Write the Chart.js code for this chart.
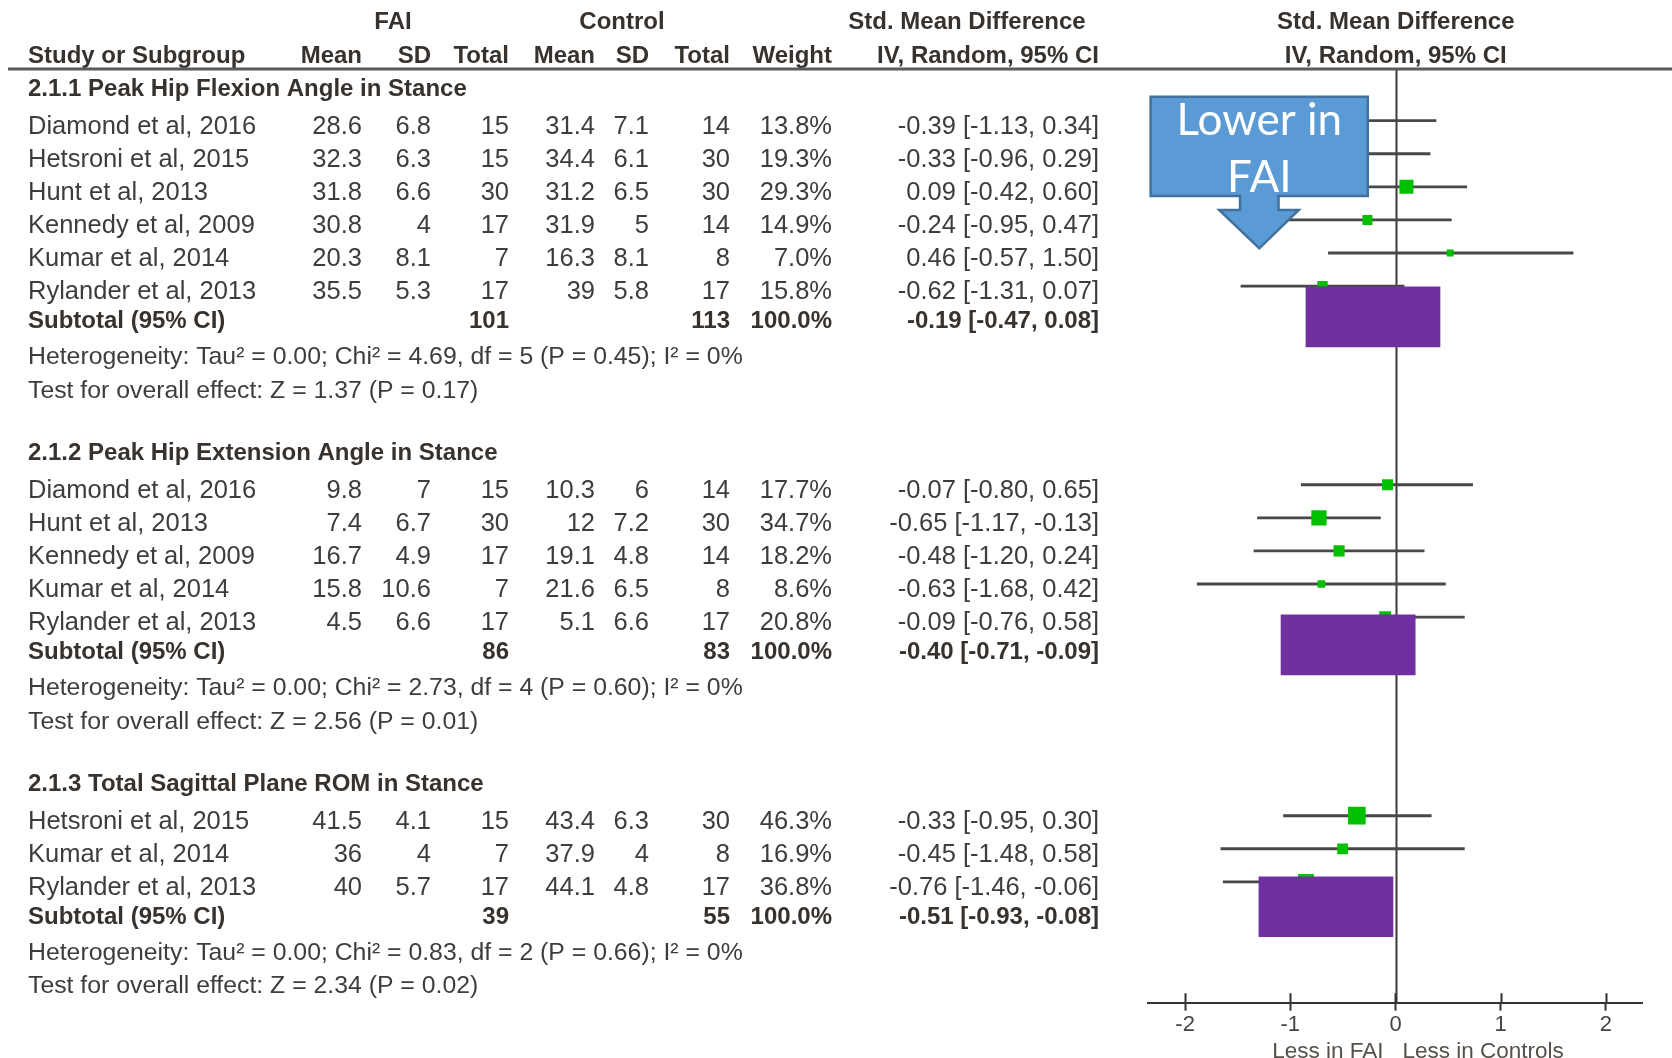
<!DOCTYPE html>
<html>
<head>
<meta charset="utf-8">
<title>Forest plot – hip kinematics in FAI vs controls</title>
<script src="https://cdn.jsdelivr.net/npm/chart.js@4.4.1/dist/chart.umd.min.js"></script>
<style>
  html, body { margin: 0; padding: 0; background: #ffffff; }
  canvas { display: block; }
</style>
</head>
<body>
<canvas id="forest" width="1672" height="1058"></canvas>
<script>
// ---------------- data ----------------
const sectionTitles = [
  '2.1.1 Peak Hip Flexion Angle in Stance',
  '2.1.2 Peak Hip Extension Angle in Stance',
  '2.1.3 Total Sagittal Plane ROM in Stance'
];
const studyNames = [
  ['Diamond et al, 2016', 'Hetsroni et al, 2015', 'Hunt et al, 2013', 'Kennedy et al, 2009', 'Kumar et al, 2014', 'Rylander et al, 2013'],
  ['Diamond et al, 2016', 'Hunt et al, 2013', 'Kennedy et al, 2009', 'Kumar et al, 2014', 'Rylander et al, 2013'],
  ['Hetsroni et al, 2015', 'Kumar et al, 2014', 'Rylander et al, 2013']
];
const faiMean  = [[28.6, 32.3, 31.8, 30.8, 20.3, 35.5], [9.8, 7.4, 16.7, 15.8, 4.5], [41.5, 36, 40]];
const faiSD    = [[6.8, 6.3, 6.6, 4, 8.1, 5.3], [7, 6.7, 4.9, 10.6, 6.6], [4.1, 4, 5.7]];
const faiN     = [[15, 15, 30, 17, 7, 17], [15, 30, 17, 7, 17], [15, 7, 17]];
const ctlMean  = [[31.4, 34.4, 31.2, 31.9, 16.3, 39], [10.3, 12, 19.1, 21.6, 5.1], [43.4, 37.9, 44.1]];
const ctlSD    = [[7.1, 6.1, 6.5, 5, 8.1, 5.8], [6, 7.2, 4.8, 6.5, 6.6], [6.3, 4, 4.8]];
const ctlN     = [[14, 30, 30, 14, 8, 17], [14, 30, 14, 8, 17], [30, 8, 17]];
const weightPct = [[13.8, 19.3, 29.3, 14.9, 7.0, 15.8], [17.7, 34.7, 18.2, 8.6, 20.8], [46.3, 16.9, 36.8]];
const smd      = [[-0.39, -0.33, 0.09, -0.24, 0.46, -0.62], [-0.07, -0.65, -0.48, -0.63, -0.09], [-0.33, -0.45, -0.76]];
const ciLow    = [[-1.13, -0.96, -0.42, -0.95, -0.57, -1.31], [-0.80, -1.17, -1.20, -1.68, -0.76], [-0.95, -1.48, -1.46]];
const ciHigh   = [[0.34, 0.29, 0.60, 0.47, 1.50, 0.07], [0.65, -0.13, 0.24, 0.42, 0.58], [0.30, 0.58, -0.06]];

const subFaiN  = [101, 86, 39];
const subCtlN  = [113, 83, 55];
const subSmd   = [-0.19, -0.40, -0.51];
const subLow   = [-0.47, -0.71, -0.93];
const subHigh  = [0.08, -0.09, -0.08];

const hetTau2  = [0.00, 0.00, 0.00];
const hetChi2  = [4.69, 2.73, 0.83];
const hetDf    = [5, 4, 2];
const hetP     = [0.45, 0.60, 0.66];
const hetI2    = [0, 0, 0];
const effectZ  = [1.37, 2.56, 2.34];
const effectP  = [0.17, 0.01, 0.02];

const tickValues = [-2, -1, 0, 1, 2];

// ---------------- layout ----------------
// vertical positions are expressed in table rows (one row per study line)
const sectionFirstRow = [2, 13, 23];
const HEADER_ROWS = [-1.16, -0.14];
const TITLE_OFFSET = -1.13;     // subgroup title above first study
const SUBTOTAL_OFFSET = 0.87;   // after last study
const HET_OFFSET = 1.97;
const TEST_OFFSET = 2.97;
const TEXT_DROP = 6.3;          // text centre sits slightly below the CI line

// pasted-in annotation shapes, in data units (SMD on x, rows on y)
const highlightLow  = [-0.760, -0.971, -1.158];
const highlightHigh = [0.374, 0.164, -0.024];
const highlightRow  = [7.93, 17.84, 25.75];
const CALLOUT = {
  left: -2.074, right: -0.237, top: 1.275, bottom: 4.277,
  shaftLeft: -1.318, shaftRight: -0.992, headLeft: -1.494, headRight: -0.821,
  headRow: 4.70, tipX: -1.155, tipRow: 5.857,
  lines: ['Lower in', 'FAI']
};

// plotting window
const X_MIN = -2.0964, X_MAX = 2.0829;          // effect-size scale
const AXIS_MIN = -2.3527, AXIS_MAX = 2.3432;    // printed axis
const Y_MIN = 0.47, Y_MAX = 28.65;

const COL = {
  study: 28, faiMean: 362, faiSD: 431, faiN: 509,
  ctlMean: 595, ctlSD: 649, ctlN: 730, weight: 832, ci: 1099,
  faiHead: 393, ctlHead: 622, smdHead: 967, ivHead: 988
};

const FONT = '"Liberation Sans", Arial, Helvetica, sans-serif';
const TEXT_REG = '25.5px ' + FONT;
const TEXT_NOTE = '24.8px ' + FONT;
const TEXT_BOLD = 'bold 24px ' + FONT;
const INK = '#3d3d3d';
const INK_BOLD = '#38322e';
const LINE_INK = '#474747';
const SQUARE_GREEN = '#00c000';
const BOX_PURPLE = '#7030a0';

// ---------------- helpers ----------------
const fmt2 = v => v.toFixed(2);
const ciText = (e, lo, hi) => `${fmt2(e)} [${fmt2(lo)}, ${fmt2(hi)}]`;

// ---------------- datasets ----------------
const ciData = [], squareData = [], squareRadius = [];
sectionFirstRow.forEach((first, s) => {
  smd[s].forEach((e, i) => {
    const row = first + i;
    ciData.push({ x: [ciLow[s][i], ciHigh[s][i]], y: row });
    squareData.push({ x: e, y: row });
    const side = 2.6 * Math.sqrt(weightPct[s][i]);
    squareRadius.push(side / (2 * Math.SQRT1_2));
  });
});

const diamondSets = sectionFirstRow.map((first, s) => {
  const row = first + smd[s].length - 1 + SUBTOTAL_OFFSET - 0.03;
  return {
    type: 'line',
    xAxisID: 'x', yAxisID: 'y',
    data: [
      { x: subLow[s], y: row }, { x: subSmd[s], y: row - 0.2 },
      { x: subHigh[s], y: row }, { x: subSmd[s], y: row + 0.2 },
      { x: subLow[s], y: row }
    ],
    borderColor: '#000', borderWidth: 1, backgroundColor: '#000',
    fill: 'shape', pointRadius: 0, tension: 0, order: 2
  };
});

const datasets = [
  {
    type: 'bar', indexAxis: 'y', xAxisID: 'x', yAxisID: 'y',
    data: ciData, barThickness: 2.2, grouped: false,
    backgroundColor: LINE_INK, borderWidth: 0, order: 3
  },
  {
    type: 'scatter', xAxisID: 'x', yAxisID: 'y',
    data: squareData, pointStyle: 'rect', pointRadius: squareRadius,
    backgroundColor: SQUARE_GREEN, borderColor: SQUARE_GREEN, borderWidth: 0, order: 1
  },
  ...diamondSets,
  {
    type: 'bar', indexAxis: 'y', xAxisID: 'x', yAxisID: 'y',
    data: highlightRow.map((r, k) => ({ x: [highlightLow[k], highlightHigh[k]], y: r })),
    barThickness: 60, grouped: false,
    backgroundColor: BOX_PURPLE, borderWidth: 0, order: 0
  }
];

// ---------------- drawing of table & decorations ----------------
function put(ctx, s, x, y, align, font, color) {
  ctx.font = font;
  ctx.fillStyle = color;
  ctx.textAlign = align;
  ctx.textBaseline = 'middle';
  ctx.fillText(s, x, y);
}

const forestDecor = {
  id: 'forestDecor',
  beforeDatasetsDraw(chart) {
    const { ctx, chartArea, scales: { x } } = chart;
    const x0 = Math.round(x.getPixelForValue(0)) + 0.5;
    ctx.save();
    ctx.strokeStyle = '#3a3a3a';
    ctx.lineWidth = 2;
    ctx.beginPath();
    ctx.moveTo(x0, chartArea.top);
    ctx.lineTo(x0, chartArea.bottom);
    ctx.stroke();
    ctx.restore();
  },
  afterDatasetsDraw(chart) {
    const { ctx, scales: { x, y } } = chart;
    const X = v => x.getPixelForValue(v), Y = v => y.getPixelForValue(v);
    const c = CALLOUT;
    const l = X(c.left), r = X(c.right), t = Y(c.top), b = Y(c.bottom);
    const sl = X(c.shaftLeft), sr = X(c.shaftRight);
    const hl = X(c.headLeft), hr = X(c.headRight), hy = Y(c.headRow);
    const tx = X(c.tipX), ty = Y(c.tipRow);
    ctx.save();
    ctx.beginPath();
    ctx.moveTo(l, t); ctx.lineTo(r, t); ctx.lineTo(r, b);
    ctx.lineTo(sr, b); ctx.lineTo(sr, hy); ctx.lineTo(hr, hy);
    ctx.lineTo(tx, ty);
    ctx.lineTo(hl, hy); ctx.lineTo(sl, hy); ctx.lineTo(sl, b);
    ctx.lineTo(l, b); ctx.closePath();
    ctx.fillStyle = '#5b9bd5';
    ctx.fill();
    ctx.lineJoin = 'miter';
    ctx.strokeStyle = '#41719c';
    ctx.lineWidth = 2.5;
    ctx.stroke();
    const cx = (sl + sr) / 2;
    const h = b - t;
    put(ctx, c.lines[0], cx, t + 0.24 * h, 'center', '44px Lato, "Open Sans", sans-serif', '#ffffff');
    put(ctx, c.lines[1], cx, t + 0.82 * h, 'center', '44px Lato, "Open Sans", sans-serif', '#ffffff');
    ctx.restore();
  },
  afterDraw(chart) {
    const { ctx, chartArea, scales: { y, xAxis } } = chart;
    const rowY = r => y.getPixelForValue(r) + TEXT_DROP;
    ctx.save();

    // column headings
    const h1 = rowY(HEADER_ROWS[0]), h2 = rowY(HEADER_ROWS[1]);
    put(ctx, 'FAI', COL.faiHead, h1, 'center', TEXT_BOLD, INK_BOLD);
    put(ctx, 'Control', COL.ctlHead, h1, 'center', TEXT_BOLD, INK_BOLD);
    put(ctx, 'Std. Mean Difference', COL.smdHead, h1, 'center', TEXT_BOLD, INK_BOLD);
    put(ctx, 'Study or Subgroup', COL.study, h2, 'left', TEXT_BOLD, INK_BOLD);
    put(ctx, 'Mean', COL.faiMean, h2, 'right', TEXT_BOLD, INK_BOLD);
    put(ctx, 'SD', COL.faiSD, h2, 'right', TEXT_BOLD, INK_BOLD);
    put(ctx, 'Total', COL.faiN, h2, 'right', TEXT_BOLD, INK_BOLD);
    put(ctx, 'Mean', COL.ctlMean, h2, 'right', TEXT_BOLD, INK_BOLD);
    put(ctx, 'SD', COL.ctlSD, h2, 'right', TEXT_BOLD, INK_BOLD);
    put(ctx, 'Total', COL.ctlN, h2, 'right', TEXT_BOLD, INK_BOLD);
    put(ctx, 'Weight', COL.weight, h2, 'right', TEXT_BOLD, INK_BOLD);
    put(ctx, 'IV, Random, 95% CI', COL.ivHead, h2, 'center', TEXT_BOLD, INK_BOLD);
    const xPlot0 = chart.scales.x.getPixelForValue(0);
    put(ctx, 'Std. Mean Difference', xPlot0, h1, 'center', TEXT_BOLD, INK_BOLD);
    put(ctx, 'IV, Random, 95% CI', xPlot0, h2, 'center', TEXT_BOLD, INK_BOLD);

    // heading rule
    ctx.strokeStyle = '#5a5a5a';
    ctx.lineWidth = 3;
    ctx.beginPath();
    ctx.moveTo(8, chartArea.top - 1);
    ctx.lineTo(chart.width, chartArea.top - 1);
    ctx.stroke();

    // subgroups
    sectionFirstRow.forEach((first, s) => {
      const last = first + studyNames[s].length - 1;
      put(ctx, sectionTitles[s], COL.study, rowY(first + TITLE_OFFSET), 'left', TEXT_BOLD, INK_BOLD);
      studyNames[s].forEach((name, i) => {
        const yy = rowY(first + i);
        put(ctx, name, COL.study, yy, 'left', TEXT_REG, INK);
        put(ctx, String(faiMean[s][i]), COL.faiMean, yy, 'right', TEXT_REG, INK);
        put(ctx, String(faiSD[s][i]), COL.faiSD, yy, 'right', TEXT_REG, INK);
        put(ctx, String(faiN[s][i]), COL.faiN, yy, 'right', TEXT_REG, INK);
        put(ctx, String(ctlMean[s][i]), COL.ctlMean, yy, 'right', TEXT_REG, INK);
        put(ctx, String(ctlSD[s][i]), COL.ctlSD, yy, 'right', TEXT_REG, INK);
        put(ctx, String(ctlN[s][i]), COL.ctlN, yy, 'right', TEXT_REG, INK);
        put(ctx, weightPct[s][i].toFixed(1) + '%', COL.weight, yy, 'right', TEXT_REG, INK);
        put(ctx, ciText(smd[s][i], ciLow[s][i], ciHigh[s][i]), COL.ci, yy, 'right', TEXT_REG, INK);
      });
      const ys = rowY(last + SUBTOTAL_OFFSET);
      put(ctx, 'Subtotal (95% CI)', COL.study, ys, 'left', TEXT_BOLD, INK_BOLD);
      put(ctx, String(subFaiN[s]), COL.faiN, ys, 'right', TEXT_BOLD, INK_BOLD);
      put(ctx, String(subCtlN[s]), COL.ctlN, ys, 'right', TEXT_BOLD, INK_BOLD);
      put(ctx, '100.0%', COL.weight, ys, 'right', TEXT_BOLD, INK_BOLD);
      put(ctx, ciText(subSmd[s], subLow[s], subHigh[s]), COL.ci, ys, 'right', TEXT_BOLD, INK_BOLD);
      put(ctx, `Heterogeneity: Tau\u00B2 = ${fmt2(hetTau2[s])}; Chi\u00B2 = ${fmt2(hetChi2[s])}, df = ${hetDf[s]} (P = ${fmt2(hetP[s])}); I\u00B2 = ${hetI2[s]}%`,
        COL.study, rowY(last + HET_OFFSET), 'left', TEXT_NOTE, INK);
      put(ctx, `Test for overall effect: Z = ${fmt2(effectZ[s])} (P = ${fmt2(effectP[s])})`,
        COL.study, rowY(last + TEST_OFFSET), 'left', TEXT_NOTE, INK);
    });

    // upper half of the axis tick marks
    ctx.strokeStyle = '#333333';
    ctx.lineWidth = 2;
    xAxis.ticks.forEach(t => {
      const px = Math.round(xAxis.getPixelForValue(t.value)) + 0.5;
      ctx.beginPath();
      ctx.moveTo(px, chartArea.bottom - 9.5);
      ctx.lineTo(px, chartArea.bottom);
      ctx.stroke();
    });

    // direction labels under the axis
    const a0 = xAxis.getPixelForValue(0);
    const yl = chartArea.bottom + 49;
    put(ctx, 'Less in FAI', a0 - 12, yl, 'right', '22.5px ' + FONT, '#555049');
    put(ctx, 'Less in Controls', a0 + 7, yl, 'left', '22.5px ' + FONT, '#555049');
    ctx.restore();
  }
};

new Chart(document.getElementById('forest'), {
  type: 'scatter',
  data: { datasets },
  options: {
    responsive: false,
    animation: false,
    events: [],
    layout: { padding: { left: 1148, right: 30, top: 70, bottom: 0 } },
    plugins: { legend: { display: false }, tooltip: { enabled: false } },
    scales: {
      x: { type: 'linear', display: false, offset: false, min: X_MIN, max: X_MAX },
      y: { type: 'linear', display: false, offset: false, grid: { offset: false }, reverse: true, min: Y_MIN, max: Y_MAX },
      xAxis: {
        type: 'linear', axis: 'x', position: 'bottom', offset: false,
        min: AXIS_MIN, max: AXIS_MAX,
        afterBuildTicks: s => { s.ticks = tickValues.map(v => ({ value: v })); },
        afterFit: s => { s.height = 55.3; },
        grid: { drawOnChartArea: false, drawTicks: true, tickLength: 8, tickWidth: 2, tickColor: '#333333', color: '#333333' },
        border: { display: true, color: '#333333', width: 2 },
        ticks: { font: { family: FONT, size: 22 }, color: '#444444', padding: 1, callback: v => String(v) }
      }
    }
  },
  plugins: [forestDecor]
});
</script>
</body>
</html>
